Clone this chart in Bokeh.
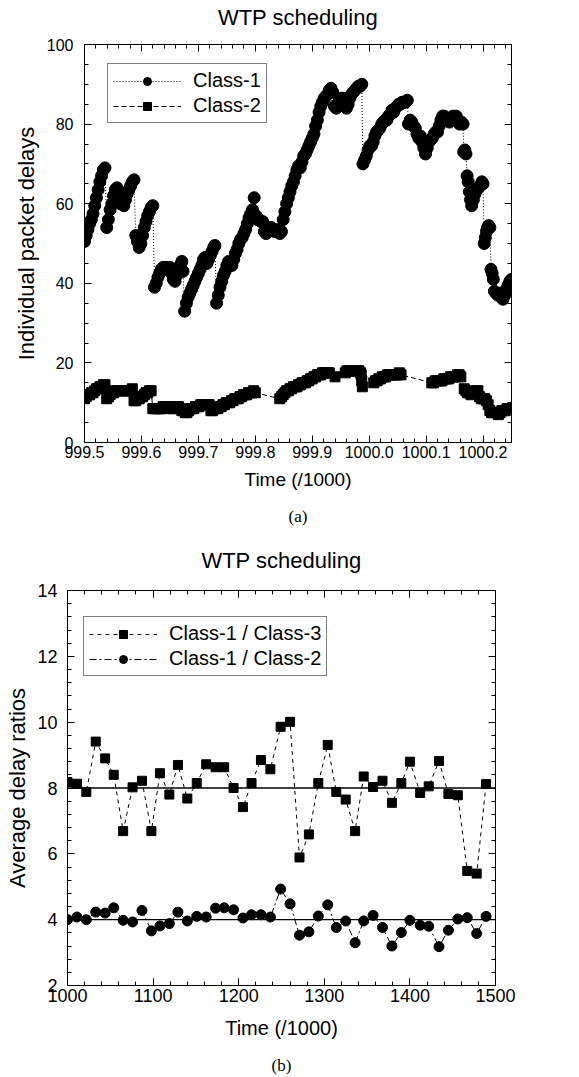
from bokeh.plotting import figure
from bokeh.models import (LinearAxis, FixedTicker, Span, Legend, LegendItem,
                          CustomJSTickFormatter, Range1d, PrintfTickFormatter)
from bokeh.embed import file_html
from bokeh.resources import INLINE
import numpy as np

# ---------------- data: (a) individual packet delays ----------------
c1_t = [999.500, 999.503, 999.506, 999.509, 999.512, 999.515, 999.518, 999.521, 999.524, 999.527, 999.530, 999.533, 999.536,
        999.539, 999.542, 999.545, 999.548, 999.551, 999.554, 999.557, 999.560, 999.563, 999.566, 999.569, 999.572, 999.575, 999.578, 999.581, 999.584, 999.587,
        999.590, 999.593, 999.596, 999.599, 999.602, 999.605, 999.608, 999.611, 999.614, 999.617, 999.620,
        999.623, 999.626, 999.629, 999.632, 999.635, 999.638, 999.641, 999.644, 999.647, 999.650, 999.653, 999.656, 999.659, 999.662, 999.665, 999.668, 999.671, 999.673,
        999.676, 999.679, 999.682, 999.685, 999.688, 999.691, 999.694, 999.697, 999.700, 999.703, 999.706, 999.709, 999.712, 999.715, 999.718, 999.721, 999.724, 999.727, 999.729,
        999.732, 999.735, 999.738, 999.741, 999.744, 999.747, 999.750, 999.753, 999.756, 999.759, 999.762, 999.765, 999.768, 999.771, 999.774, 999.777, 999.780, 999.783, 999.786, 999.789,
        999.792, 999.795, 999.798, 999.801, 999.804, 999.807, 999.810, 999.813, 999.816, 999.819, 999.822, 999.825, 999.828, 999.831, 999.834, 999.837, 999.840, 999.843, 999.846,
        999.849, 999.852, 999.855, 999.858, 999.861, 999.864, 999.867, 999.870, 999.873, 999.876, 999.879, 999.882, 999.885, 999.888, 999.891, 999.894, 999.897, 999.900, 999.903,
        999.906, 999.909, 999.912, 999.915, 999.918, 999.921, 999.924, 999.927, 999.930, 999.933, 999.936, 999.939, 999.942, 999.945, 999.948, 999.951, 999.954, 999.957, 999.960,
        999.963, 999.966, 999.969, 999.972, 999.975, 999.978, 999.981, 999.984, 999.987,
        999.989, 999.992, 999.995, 999.998, 1000.001, 1000.004, 1000.007, 1000.010, 1000.013, 1000.016, 1000.019, 1000.022, 1000.025, 1000.028, 1000.031, 1000.034, 1000.037,
        1000.040, 1000.043, 1000.046, 1000.049, 1000.052, 1000.055, 1000.058, 1000.061, 1000.064, 1000.067,
        1000.069, 1000.072, 1000.075, 1000.078, 1000.081, 1000.084, 1000.087, 1000.090, 1000.093, 1000.096, 1000.099, 1000.102, 1000.105, 1000.108, 1000.111, 1000.114, 1000.117,
        1000.120, 1000.123, 1000.126, 1000.129, 1000.132, 1000.135, 1000.138, 1000.141, 1000.144, 1000.147, 1000.150, 1000.153, 1000.156, 1000.159, 1000.162, 1000.165,
        1000.166, 1000.168, 1000.170, 1000.172, 1000.174, 1000.176, 1000.178, 1000.180, 1000.183, 1000.186, 1000.189, 1000.192, 1000.195, 1000.198, 1000.200,
        1000.202, 1000.204, 1000.206, 1000.208, 1000.210, 1000.212,
        1000.214, 1000.216, 1000.218, 1000.220, 1000.223, 1000.226, 1000.229, 1000.232, 1000.235, 1000.238, 1000.241, 1000.244, 1000.247, 1000.250]
c1_d = [50.5, 52.0, 53.5, 55.0, 56.0, 57.5, 59.5, 61.5, 63.5, 65.5, 67.0, 68.5, 69.0,
        54.0, 56.0, 58.5, 60.0, 62.0, 63.5, 64.0, 61.5, 60.0, 60.5, 59.5, 61.0, 62.5, 63.5, 64.5, 65.5, 66.0,
        52.0, 50.5, 49.0, 50.0, 52.0, 54.0, 55.5, 57.0, 58.0, 59.0, 59.5,
        39.0, 40.0, 41.5, 42.5, 43.5, 44.0, 44.0, 44.0, 43.5, 44.0, 42.5, 41.0, 40.5, 42.0, 43.0, 44.5, 45.5, 43.0,
        33.0, 35.0, 36.5, 37.5, 38.5, 39.5, 40.5, 41.5, 42.5, 43.5, 44.5, 46.0, 46.5, 45.0, 46.0, 47.0, 48.0, 49.0, 49.5,
        35.0, 37.0, 39.0, 40.5, 42.0, 43.0, 44.5, 45.5, 45.0, 44.5, 46.0, 47.5, 48.5, 50.0, 51.0, 51.5, 52.5, 53.5, 55.0, 56.5,
        57.5, 58.5, 61.5, 57.0, 56.0, 56.0, 55.5, 55.5, 53.0, 52.5, 53.0, 54.0, 54.0, 53.5, 53.0, 53.5, 53.0, 52.5, 53.0,
        56.0, 58.0, 60.0, 61.5, 63.0, 64.5, 65.5, 67.0, 68.5, 69.5, 69.0, 70.5, 72.0, 72.5, 73.5, 74.5, 75.5, 76.5, 77.5,
        79.5, 81.0, 83.0, 84.5, 85.5, 86.5, 87.0, 87.5, 88.5, 89.0, 88.0, 84.5, 84.0, 85.0, 86.0, 86.5, 86.5, 85.5, 84.0,
        85.0, 86.5, 87.5, 88.0, 88.5, 89.0, 89.5, 89.5, 90.0,
        70.0, 71.0, 72.0, 73.5, 74.5, 74.5, 75.5, 77.0, 78.0, 78.5, 79.0, 80.0, 80.5, 81.0, 81.0, 82.0, 82.5,
        83.5, 83.0, 84.0, 84.5, 85.0, 85.0, 85.5, 85.5, 85.5, 86.0,
        80.0, 81.0, 80.5, 79.5, 79.0, 77.5, 76.5, 77.0, 75.5, 74.0, 72.5, 74.0, 75.5, 76.0, 76.5, 77.5, 78.0,
        78.0, 79.5, 81.0, 82.0, 82.0, 81.0, 81.0, 80.5, 81.0, 82.0, 81.5, 82.0, 80.5, 80.0, 80.5, 80.0,
        73.0, 73.5, 72.5, 67.0, 65.5, 63.0, 61.0, 59.5, 61.0, 62.5, 63.5, 64.0, 64.5, 65.5, 65.0,
        50.0, 51.5, 53.0, 54.0, 54.5, 54.0,
        43.5, 42.5, 41.0, 38.0, 37.5, 37.0, 37.5, 36.5, 36.0, 37.0, 38.5, 39.5, 40.5, 41.0]

c2_t = [999.500, 999.503, 999.506, 999.509, 999.512, 999.515, 999.518, 999.521, 999.524, 999.527, 999.530, 999.533, 999.536,
        999.539, 999.542, 999.545, 999.548, 999.551, 999.554, 999.557, 999.560, 999.563, 999.566, 999.569, 999.572, 999.575, 999.578, 999.581, 999.584,
        999.587, 999.590, 999.593, 999.596, 999.599, 999.602, 999.605, 999.608, 999.611, 999.614, 999.617,
        999.620, 999.623, 999.626, 999.629, 999.632, 999.635, 999.638, 999.641, 999.644, 999.647, 999.650, 999.653, 999.656, 999.659, 999.662, 999.665,
        999.668, 999.671, 999.674, 999.677, 999.680, 999.683, 999.686, 999.689, 999.692, 999.695, 999.698, 999.701, 999.704, 999.707, 999.710, 999.713, 999.716, 999.719,
        999.722, 999.725, 999.728, 999.731, 999.734, 999.737, 999.740, 999.743, 999.746, 999.749, 999.752, 999.755, 999.758, 999.761, 999.764, 999.767, 999.770,
        999.773, 999.776, 999.779, 999.782, 999.785, 999.788, 999.791, 999.794, 999.797, 999.800,
        999.843, 999.846, 999.849, 999.852, 999.855, 999.858, 999.861, 999.864, 999.867, 999.870, 999.873, 999.876, 999.879, 999.882, 999.885, 999.888,
        999.891, 999.894, 999.897, 999.900, 999.903, 999.906, 999.909, 999.912, 999.915, 999.918, 999.921, 999.924, 999.927, 999.930, 999.940,
        999.958, 999.961, 999.964, 999.967, 999.970, 999.973, 999.976, 999.979, 999.982, 999.985, 999.986, 999.987, 999.988,
        1000.008, 1000.011, 1000.014, 1000.017, 1000.020, 1000.023, 1000.026, 1000.029, 1000.032, 1000.035, 1000.038, 1000.041, 1000.044, 1000.047, 1000.050, 1000.053, 1000.056,
        1000.110, 1000.113, 1000.116, 1000.119, 1000.122, 1000.125, 1000.128, 1000.131, 1000.134, 1000.137, 1000.140, 1000.143, 1000.146, 1000.149, 1000.152, 1000.155, 1000.158, 1000.161,
        1000.167, 1000.170, 1000.173, 1000.176, 1000.179, 1000.182, 1000.185, 1000.188, 1000.191, 1000.194, 1000.197, 1000.200, 1000.203, 1000.206,
        1000.209, 1000.212, 1000.215, 1000.218, 1000.221, 1000.224, 1000.227, 1000.230, 1000.233, 1000.236, 1000.239, 1000.242, 1000.245, 1000.248]
c2_d = [11.0, 11.5, 12.0, 12.0, 12.5, 12.5, 13.0, 13.5, 13.5, 14.0, 14.0, 14.5, 14.5,
        11.0, 11.5, 12.0, 12.5, 12.5, 13.0, 13.0, 13.0, 13.0, 13.0, 13.0, 13.0, 13.0, 13.0, 13.0, 13.5,
        10.5, 10.5, 11.0, 11.0, 11.5, 11.5, 12.0, 12.5, 12.5, 13.0, 13.0,
        8.5, 8.5, 8.5, 8.5, 8.5, 8.5, 9.0, 9.0, 9.0, 9.0, 9.0, 8.5, 8.5, 9.0, 9.0, 9.0,
        8.5, 8.0, 8.0, 7.5, 7.5, 8.0, 8.5, 8.5, 8.5, 9.0, 9.0, 9.0, 9.5, 9.5, 9.5, 9.5, 9.5, 9.5,
        8.0, 8.0, 8.5, 8.5, 8.5, 9.0, 9.0, 9.5, 9.5, 10.0, 10.0, 10.0, 10.5, 10.5, 11.0, 11.0, 11.0,
        11.5, 11.5, 12.0, 12.0, 12.0, 12.5, 12.5, 12.5, 13.0, 12.5,
        11.0, 11.5, 12.0, 12.5, 13.0, 13.0, 13.5, 13.5, 14.0, 14.0, 14.0, 14.5, 14.5, 15.0, 15.0, 15.0,
        15.5, 15.5, 16.0, 16.0, 16.5, 16.5, 17.0, 17.0, 17.0, 17.5, 17.5, 17.5, 17.5, 17.5, 16.5,
        17.5, 18.0, 18.0, 18.0, 18.0, 18.0, 18.0, 18.0, 18.0, 17.5, 17.0, 15.5, 14.0,
        15.0, 15.5, 15.5, 16.0, 16.0, 16.5, 16.5, 16.5, 17.0, 17.0, 17.0, 17.0, 17.0, 17.0, 17.0, 17.5, 17.0,
        15.0, 15.0, 15.5, 15.5, 15.5, 15.5, 15.5, 16.0, 16.0, 16.0, 16.0, 16.5, 16.5, 16.5, 16.5, 17.0, 17.0, 16.5,
        13.5, 13.0, 12.5, 12.5, 12.0, 12.5, 12.5, 13.0, 13.0, 11.5, 11.0, 11.0, 11.0, 10.5,
        9.5, 8.0, 7.5, 7.5, 7.5, 7.5, 7.0, 7.5, 8.0, 8.0, 8.0, 8.5, 8.5, 8.5]

a_xticks = [999.5, 999.6, 999.7, 999.8, 999.9, 1000.0, 1000.1, 1000.2]
a_yticks = [0, 20, 40, 60, 80, 100]

# ---------------- data: (b) average delay ratios ----------------
b_t = [1000, 1011, 1022, 1033, 1044, 1054, 1065, 1076, 1087, 1098,
       1108, 1119, 1129, 1140, 1151, 1162, 1173, 1183, 1194, 1205,
       1215, 1226, 1237, 1249, 1260, 1271, 1282, 1293, 1304, 1314,
       1325, 1336, 1346, 1357, 1368, 1379, 1390, 1400, 1412, 1422,
       1434, 1445, 1456, 1467, 1478, 1489]
r13 = [8.18, 8.13, 7.88, 9.41, 8.90, 8.40, 6.69, 8.02, 8.22, 6.69,
       8.45, 7.80, 8.70, 7.68, 8.15, 8.72, 8.63, 8.63, 8.00, 7.42,
       8.15, 8.85, 8.57, 9.86, 10.01, 5.89, 6.59, 8.15, 9.31, 7.88,
       7.65, 6.69, 8.35, 8.03, 8.22, 7.55, 8.15, 8.80, 7.85, 8.05,
       8.82, 7.82, 7.78, 5.48, 5.40, 8.12]
r12 = [4.00, 4.08, 4.00, 4.23, 4.20, 4.36, 3.98, 3.93, 4.28, 3.66,
       3.81, 3.88, 4.23, 3.96, 4.10, 4.08, 4.35, 4.36, 4.30, 4.05,
       4.15, 4.15, 4.08, 4.93, 4.48, 3.53, 3.63, 4.11, 4.45, 3.76,
       3.96, 3.30, 3.96, 4.13, 3.76, 3.20, 3.61, 3.98, 3.83, 3.80,
       3.18, 3.68, 4.02, 4.06, 3.58, 4.10]
target_13 = 8
target_12 = 4
b_xticks = [1000, 1100, 1200, 1300, 1400, 1500]
b_yticks = [2, 4, 6, 8, 10, 12, 14]

SANS = "Liberation Sans"
SERIF = "Liberation Serif"
EMPTY = CustomJSTickFormatter(code="return ''")


def style_axis(ax, ticks, minor, fs, labels=True, standoff=5, fmt=None):
    ax.ticker = FixedTicker(ticks=ticks, minor_ticks=minor)
    ax.major_tick_in = 7
    ax.major_tick_out = 0
    ax.minor_tick_in = 4
    ax.minor_tick_out = 0
    ax.axis_line_color = "black"
    ax.major_tick_line_color = "black"
    ax.minor_tick_line_color = "black"
    ax.major_label_text_font = SANS
    ax.major_label_text_font_size = fs
    ax.major_label_text_color = "black"
    ax.major_label_standoff = standoff if labels else 0
    ax.axis_label_text_font = SANS
    ax.axis_label_text_font_style = "normal"
    ax.axis_label_text_color = "black"
    if not labels:
        ax.formatter = EMPTY
    elif fmt is not None:
        ax.formatter = fmt


def caption_axis(text, standoff):
    # an axis with no line and no ticks, used only to carry the "(a)"/"(b)" caption below the plot
    ax = LinearAxis(ticker=FixedTicker(ticks=[]), formatter=EMPTY)
    ax.axis_line_color = None
    ax.major_tick_line_color = None
    ax.minor_tick_line_color = None
    ax.major_label_standoff = 0
    ax.axis_label = text
    ax.axis_label_text_font = SERIF
    ax.axis_label_text_font_size = "17px"
    ax.axis_label_text_font_style = "normal"
    ax.axis_label_text_color = "black"
    ax.axis_label_standoff = standoff
    return ax


def make_fig(height, xr, yr, borders):
    p = figure(width=579, height=height, x_range=Range1d(*xr), y_range=Range1d(*yr),
               output_backend="svg", toolbar_location=None,
               min_border_left=borders[0], min_border_right=borders[1],
               min_border_top=borders[2], min_border_bottom=borders[3])
    p.xgrid.visible = False
    p.ygrid.visible = False
    p.outline_line_color = "black"
    p.outline_line_alpha = 1
    p.background_fill_color = "white"
    p.border_fill_color = "white"
    return p


def legend_for(items, loc):
    lg = Legend(items=items, location=loc)
    lg.border_line_color = "black"
    lg.border_line_width = 1
    lg.background_fill_alpha = 1
    lg.label_text_font = SANS
    lg.label_text_font_size = "20px"
    lg.label_text_color = "black"
    lg.glyph_width = 68
    lg.glyph_height = 20
    lg.label_height = 20
    lg.padding = 5
    lg.spacing = 2
    lg.label_standoff = 12
    lg.margin = 0
    return lg


# ---------------- figure (a) ----------------
p1 = make_fig(540, (999.5, 1000.25), (0, 100), (84, 68, 44, 98))
xminor_a = list(np.round(np.arange(999.5, 1000.2501, 0.02), 3))
yminor_a = list(range(0, 101, 5))
style_axis(p1.xaxis[0], a_xticks, xminor_a, "16px", standoff=3, fmt=PrintfTickFormatter(format="%.1f"))
style_axis(p1.yaxis[0], a_yticks, yminor_a, "16px", standoff=11)
p1.xaxis[0].axis_label = "Time (/1000)"
p1.xaxis[0].axis_label_text_font_size = "19px"
p1.xaxis[0].axis_label_standoff = 8
p1.yaxis[0].axis_label = "Individual packet delays"
p1.yaxis[0].axis_label_text_font_size = "22px"
p1.yaxis[0].axis_label_standoff = 5
ra = LinearAxis()
style_axis(ra, a_yticks, yminor_a, "16px", labels=False)
p1.add_layout(ra, "right")
ta = LinearAxis()
style_axis(ta, a_xticks, xminor_a, "16px", labels=False)
ta.axis_label = "WTP scheduling"
ta.axis_label_text_font_size = "22px"
ta.axis_label_standoff = 15
p1.add_layout(ta, "above")
p1.add_layout(caption_axis("(a)", 14), "below")

l1 = p1.line(c1_t, c1_d, line_color="black", line_width=1, line_dash="1 2")
s1 = p1.scatter(c1_t, c1_d, marker="circle", size=12, fill_color="black", line_color="black")
l2 = p1.line(c2_t, c2_d, line_color="black", line_width=1, line_dash="5 3")
s2 = p1.scatter(c2_t, c2_d, marker="square", size=10, fill_color="black", line_color="black")
p1.add_layout(legend_for([LegendItem(label="Class-1", renderers=[l1, s1]),
                          LegendItem(label="Class-2", renderers=[l2, s2])], (23, 319)))

# ---------------- figure (b) ----------------
p2 = make_fig(537, (1000, 1500), (2, 14), (67, 84, 50, 91))
xminor_b = list(range(1000, 1501, 20))
yminor_b = list(np.round(np.arange(2, 14.001, 0.4), 2))
style_axis(p2.xaxis[0], b_xticks, xminor_b, "18px", standoff=3)
style_axis(p2.yaxis[0], b_yticks, yminor_b, "18px", standoff=10)
p2.xaxis[0].axis_label = "Time (/1000)"
p2.xaxis[0].axis_label_text_font_size = "20px"
p2.xaxis[0].axis_label_standoff = 12
p2.yaxis[0].axis_label = "Average delay ratios"
p2.yaxis[0].axis_label_text_font_size = "22px"
p2.yaxis[0].axis_label_standoff = 4
rb = LinearAxis()
style_axis(rb, b_yticks, yminor_b, "18px", labels=False)
p2.add_layout(rb, "right")
tb = LinearAxis()
style_axis(tb, b_xticks, xminor_b, "18px", labels=False)
tb.axis_label = "WTP scheduling"
tb.axis_label_text_font_size = "22px"
tb.axis_label_standoff = 18
p2.add_layout(tb, "above")
p2.add_layout(caption_axis("(b)", 14), "below")

p2.add_layout(Span(location=target_13, dimension="width", line_color="black", line_width=1.5))
p2.add_layout(Span(location=target_12, dimension="width", line_color="black", line_width=1.2))
l3 = p2.line(b_t, r13, line_color="black", line_width=1, line_dash="4 4")
s3 = p2.scatter(b_t, r13, marker="square", size=9, fill_color="black", line_color="black")
l4 = p2.line(b_t, r12, line_color="black", line_width=1, line_dash="7 3 2 3")
s4 = p2.scatter(b_t, r12, marker="circle", size=10, fill_color="black", line_color="black")
p2.add_layout(legend_for([LegendItem(label="Class-1 / Class-3", renderers=[l3, s3]),
                          LegendItem(label="Class-1 / Class-2", renderers=[l4, s4])], (16, 309)))

open("out.html", "w").write(file_html([p1, p2], INLINE))
